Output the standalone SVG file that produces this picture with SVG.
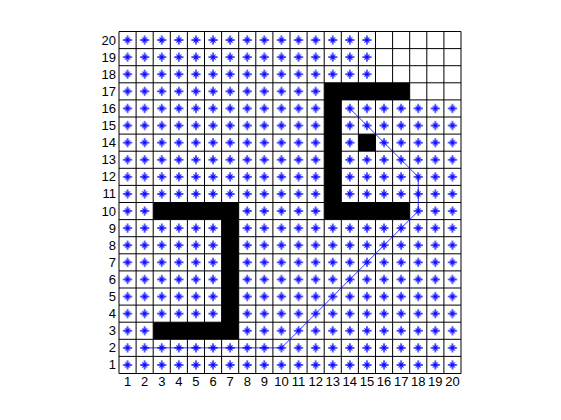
<svg xmlns="http://www.w3.org/2000/svg" width="561" height="420" viewBox="0 0 561 420">
<defs>
<pattern id="stars" x="119" y="31.5" width="17.1" height="17.1" patternUnits="userSpaceOnUse">
<path d="M4.05 8.55h9M8.55 4.05v9" stroke="#0000ff" stroke-width="1.3" fill="none"/>
<path d="M6.15 6.15l4.8 4.8M6.15 10.95l4.8-4.8" stroke="#0000ff" stroke-width="1" fill="none"/>
</pattern>
<style>
.lbl{font-family:"Liberation Sans",Arial,sans-serif;font-size:13px;fill:#000}
.xl{text-anchor:middle}
.yl{text-anchor:end}
.obs{fill:#000}
.grid{stroke:#000;stroke-width:1;fill:none}
</style>
</defs>
<rect width="561" height="420" fill="#fff"/>
<g id="free-cells">
<rect x="119" y="31.5" width="342" height="342" fill="url(#stars)"/>
<rect x="375.5" y="31.5" width="85.5" height="51.3" fill="#fff"/>
<rect x="409.7" y="82.8" width="51.3" height="17.1" fill="#fff"/>
</g>
<g id="obstacles">
<path id="obstacle-c" class="obs" d="M324.2 82.8H409.7V99.9H341.3V202.5H409.7V219.6H324.2Z"/>
<rect id="obstacle-dot" class="obs" x="358.4" y="134.1" width="17.1" height="17.1"/>
<path id="obstacle-j" class="obs" d="M153.2 202.5H238.7V339.3H153.2V322.2H221.6V219.6H153.2Z"/>
</g>
<g id="grid">
<path class="grid" d="M119 31.5V373.5M136.1 31.5V373.5M153.2 31.5V373.5M170.3 31.5V373.5M187.4 31.5V373.5M204.5 31.5V373.5M221.6 31.5V373.5M238.7 31.5V373.5M255.8 31.5V373.5M272.9 31.5V373.5M290 31.5V373.5M307.1 31.5V373.5M324.2 31.5V373.5M341.3 31.5V373.5M358.4 31.5V373.5M375.5 31.5V373.5M392.6 31.5V373.5M409.7 31.5V373.5M426.8 31.5V373.5M443.9 31.5V373.5M461 31.5V373.5"/>
<path class="grid" d="M119 31.5H461M119 48.6H461M119 65.7H461M119 82.8H461M119 99.9H461M119 117H461M119 134.1H461M119 151.2H461M119 168.3H461M119 185.4H461M119 202.5H461M119 219.6H461M119 236.7H461M119 253.8H461M119 270.9H461M119 288H461M119 305.1H461M119 322.2H461M119 339.3H461M119 356.4H461M119 373.5H461"/>
</g>
<g id="connectors">
<polyline id="path" points="144.65,347.85 281.45,347.85 418.25,211.05 418.25,176.85 349.85,108.45" fill="none" stroke="#0000ff" stroke-width="0.8"/>
</g>
<g id="x-labels" class="lbl xl">
<text x="127.55" y="386">1</text><text x="144.65" y="386">2</text><text x="161.75" y="386">3</text><text x="178.85" y="386">4</text><text x="195.95" y="386">5</text><text x="213.05" y="386">6</text><text x="230.15" y="386">7</text><text x="247.25" y="386">8</text><text x="264.35" y="386">9</text><text x="281.45" y="386">10</text><text x="298.55" y="386">11</text><text x="315.65" y="386">12</text><text x="332.75" y="386">13</text><text x="349.85" y="386">14</text><text x="366.95" y="386">15</text><text x="384.05" y="386">16</text><text x="401.15" y="386">17</text><text x="418.25" y="386">18</text><text x="435.35" y="386">19</text><text x="452.45" y="386">20</text>
</g>
<g id="y-labels" class="lbl yl">
<text x="116" y="44.5">20</text><text x="116" y="61.6">19</text><text x="116" y="78.7">18</text><text x="116" y="95.8">17</text><text x="116" y="112.9">16</text><text x="116" y="130">15</text><text x="116" y="147.1">14</text><text x="116" y="164.2">13</text><text x="116" y="181.3">12</text><text x="116" y="198.4">11</text><text x="116" y="215.5">10</text><text x="116" y="232.6">9</text><text x="116" y="249.7">8</text><text x="116" y="266.8">7</text><text x="116" y="283.9">6</text><text x="116" y="301">5</text><text x="116" y="318.1">4</text><text x="116" y="335.2">3</text><text x="116" y="352.3">2</text><text x="116" y="369.4">1</text>
</g>
</svg>
